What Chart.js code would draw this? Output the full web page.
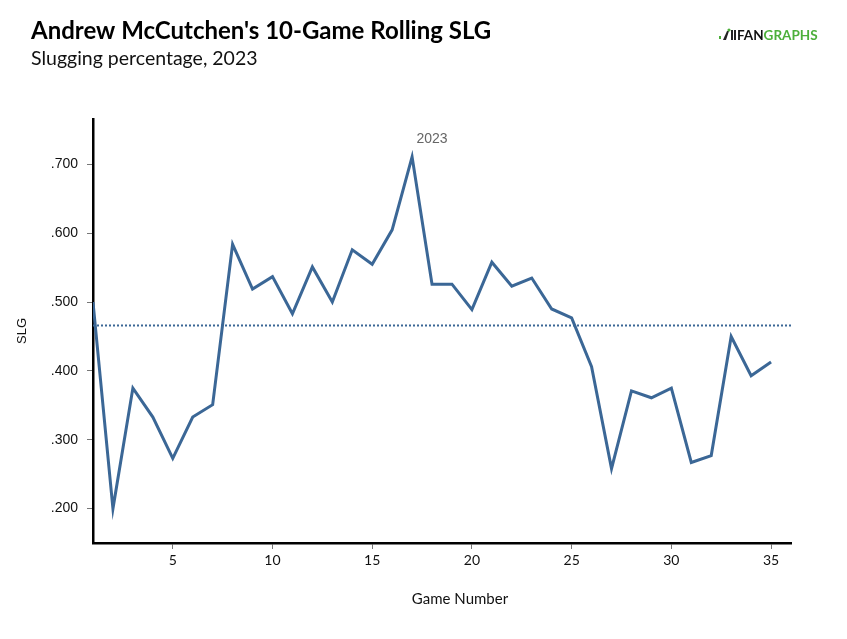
<!DOCTYPE html>
<html>
<head>
<meta charset="utf-8">
<script src="https://cdn.jsdelivr.net/npm/chart.js@4"></script>
<style>
  html, body { margin: 0; padding: 0; background: #fff; }
  canvas { display: block; }
</style>
</head>
<body>
<canvas id="slgChart" width="847" height="639"></canvas>
<script>
const games = [1,2,3,4,5,6,7,8,9,10,11,12,13,14,15,16,17,18,19,20,21,22,23,24,25,26,27,28,29,30,31,32,33,34,35];
const slg = [0.500,0.200,0.375,0.333,0.273,0.333,0.351,0.584,0.519,0.537,0.483,0.551,0.500,0.576,0.555,0.605,0.711,0.526,0.526,0.489,0.558,0.523,0.535,0.490,0.477,0.406,0.258,0.371,0.361,0.375,0.267,0.277,0.450,0.393,0.413];
const seasonAvg = 0.466;
const xTicks = [5,10,15,20,25,30,35];
const yTicks = [0.2,0.3,0.4,0.5,0.6,0.7];
const seriesLabel = "2023";

const lineColor = "#3b6796";

const headerPlugin = {
  id: "header",
  afterDraw(chart) {
    const ctx = chart.ctx;
    ctx.save();
    ctx.textBaseline = "alphabetic";
    ctx.textAlign = "left";
    ctx.fillStyle = "#000";
    ctx.font = "bold 24px Lato";
    ctx.fillText("Andrew McCutchen's 10-Game Rolling SLG", 31, 39);
    ctx.font = "19.5px Lato";
    ctx.fillStyle = "#111";
    ctx.fillText("Slugging percentage, 2023", 31, 65);

    // logo
    ctx.fillStyle = "#4caf3a";
    ctx.fillRect(719, 36, 2, 3);
    ctx.fillStyle = "#222";
    ctx.beginPath();
    ctx.moveTo(723, 40); ctx.lineTo(727, 31); ctx.lineTo(729, 31); ctx.lineTo(726, 40);
    ctx.fill();
    ctx.fillStyle = "#4caf3a";
    ctx.beginPath();
    ctx.arc(729, 30, 1.6, 0, Math.PI * 2);
    ctx.fill();
    ctx.fillStyle = "#222";
    ctx.fillRect(731, 30, 2, 10);
    ctx.fillRect(734, 30, 2, 10);
    ctx.font = "bold 13.5px Lato";
    ctx.fillStyle = "#111";
    ctx.fillText("FAN", 737, 40);
    const w = ctx.measureText("FAN").width;
    ctx.fillStyle = "#4caf3a";
    ctx.fillText("GRAPHS", 737 + w, 40);

    // x axis title
    ctx.font = "15px Lato";
    ctx.fillStyle = "#111";
    ctx.textAlign = "center";
    ctx.textBaseline = "middle";
    ctx.fillText("Game Number", 460, 599);

    // series label near peak
    const xs = chart.scales.x, ys = chart.scales.y;
    ctx.font = "14px 'Liberation Sans', Arial";
    ctx.fillStyle = "#666";
    ctx.fillText(seriesLabel, xs.getPixelForValue(18), ys.getPixelForValue(0.737));
    ctx.restore();
  }
};

const ctx = document.getElementById("slgChart").getContext("2d");

new Chart(ctx, {
  type: "line",
  data: {
    datasets: [
      {
        label: seriesLabel,
        data: games.map((g, i) => ({ x: g, y: slg[i] })),
        borderColor: lineColor,
        borderWidth: 3,
        pointRadius: 0,
        tension: 0,
        order: 1
      },
      {
        label: "Average",
        data: [{ x: 1, y: seasonAvg }, { x: 36, y: seasonAvg }],
        borderColor: lineColor,
        borderWidth: 2,
        borderDash: [2, 2],
        pointRadius: 0,
        order: 2
      }
    ]
  },
  options: {
    responsive: false,
    animation: false,
    layout: { padding: { top: 119, right: 56, bottom: 0, left: 0 } },
    plugins: {
      legend: { display: false },
      tooltip: { enabled: false }
    },
    scales: {
      x: {
        type: "linear",
        min: 1,
        max: 36,
        afterBuildTicks: s => { s.ticks = xTicks.map(v => ({ value: v })); },
        afterFit: s => { s.height = 96; },
        border: { color: "#000", width: 2.5 },
        grid: { drawOnChartArea: false, drawTicks: true, tickLength: 6, color: "#777", tickWidth: 1 },
        ticks: { color: "#111", padding: 3, font: { family: "Lato", size: 14 }, maxRotation: 0 }
      },
      y: {
        min: 0.15,
        max: 0.766,
        afterBuildTicks: s => { s.ticks = yTicks.map(v => ({ value: v })); },
        afterFit: s => { s.width = 93; },
        border: { color: "#000", width: 2.5 },
        grid: { drawOnChartArea: false, drawTicks: true, tickLength: 6, color: "#777", tickWidth: 1 },
        ticks: {
          color: "#111",
          padding: 9,
          font: { family: "'Liberation Sans', Arial", size: 14 },
          callback: v => "." + v.toFixed(3).slice(2)
        },
        title: {
          display: true,
          text: "SLG",
          color: "#111",
          font: { family: "'Liberation Sans', Arial", size: 13 },
          padding: { top: 15, bottom: 0 }
        }
      }
    }
  },
  plugins: [headerPlugin]
});
</script>
</body>
</html>
